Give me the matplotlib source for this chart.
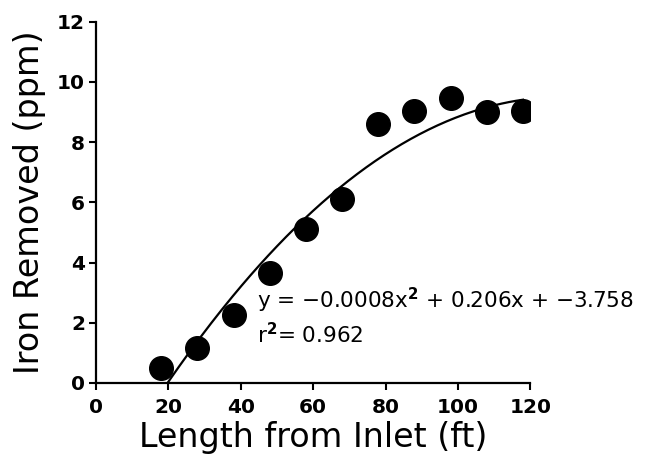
import matplotlib
matplotlib.use("Agg")
import matplotlib.pyplot as plt
import numpy as np

length_ft = [18, 28, 38, 48, 58, 68, 78, 88, 98, 108, 118]
iron_removed = [0.51, 1.17, 2.25, 3.66, 5.1, 6.1, 8.6, 9.04, 9.46, 8.99, 9.05]
coef = [-0.0008, 0.206, -3.758]
fit_range = [20, 118]
x_ticks = [0, 20, 40, 60, 80, 100, 120]
y_ticks = [0, 2, 4, 6, 8, 10, 12]

fig = plt.figure(figsize=(6.55, 4.59), dpi=100)
ax = fig.add_axes([0.1466, 0.1656, 0.663, 0.787])

ax.plot(length_ft, iron_removed, 'o', color='black', markersize=17, zorder=3)
xf = np.linspace(fit_range[0], fit_range[1], 200)
yf = np.polyval(coef, xf)
ax.plot(xf, yf, color='black', linewidth=1.6, zorder=2)

ax.set_xlim(0, 120)
ax.set_ylim(0, 12)
ax.set_xticks(x_ticks)
ax.set_yticks(y_ticks)
for s in ['top', 'right']:
    ax.spines[s].set_visible(False)
for s in ['left', 'bottom']:
    ax.spines[s].set_linewidth(1.6)
ax.tick_params(direction='out', length=5, width=1.5, labelsize=14.5)
ax.tick_params(axis='x', pad=6)
ax.tick_params(axis='y', pad=3)
for lab in ax.get_xticklabels() + ax.get_yticklabels():
    lab.set_fontweight('bold')

ax.set_xlabel('Length from Inlet (ft)', fontsize=24, labelpad=3)
ax.set_ylabel('Iron Removed (ppm)', fontsize=24, labelpad=8)

ax.text(44.5, 2.75, r'y = $-$0.0008x$^{\mathbf{2}}$ + 0.206x + $-$3.758', fontsize=15.5,
        va='center', ha='left')
ax.text(44.5, 1.6, r'r$^{\mathbf{2}}$= 0.962', fontsize=15.5, va='center', ha='left')

fig.savefig('out.png', dpi=100)
